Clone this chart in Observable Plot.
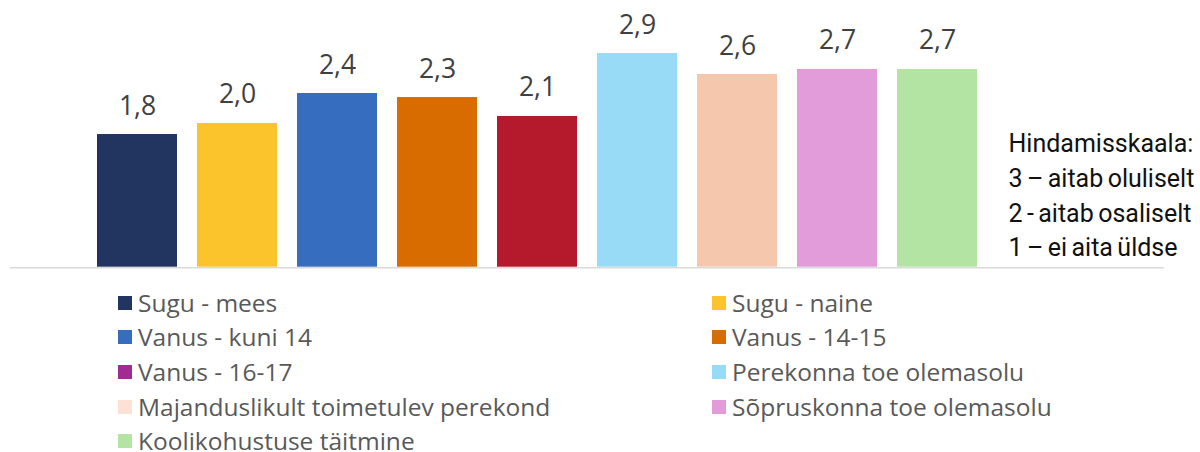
<!DOCTYPE html>
<html>
<head>
<meta charset="utf-8">
<script src="https://cdn.jsdelivr.net/npm/d3@7"></script>
<script src="https://cdn.jsdelivr.net/npm/@observablehq/plot@0.6"></script>
<style>
  html, body { margin: 0; padding: 0; background: #fff; }
  #chart { width: 1200px; }
  #legend {
    display: grid;
    grid-template-columns: 594px auto;
    padding-left: 118px;
    font-family: "Open Sans", sans-serif;
    font-size: 24.5px;
    color: #595959;
  }
  .item { display: flex; align-items: center; height: 34.6px; white-space: nowrap; }
  .item span.lbl { display: block; line-height: 0.9; }
  .sw { width: 14px; height: 14px; margin-right: 6px; flex: none; }
</style>
</head>
<body>
<div id="chart"></div>
<div id="legend"></div>
<script>
const categories = [
  "Sugu - mees",
  "Sugu - naine",
  "Vanus - kuni 14",
  "Vanus - 14-15",
  "Vanus - 16-17",
  "Perekonna toe olemasolu",
  "Majanduslikult toimetulev perekond",
  "Sõpruskonna toe olemasolu",
  "Koolikohustuse täitmine"
];
const values = [1.815, 1.966, 2.376, 2.321, 2.062, 2.923, 2.636, 2.705, 2.705];
const barColors = ["#213560", "#FBC32C", "#366DBF", "#D86C00", "#B4192C", "#98DBF6", "#F5C8AE", "#E39CDA", "#B4E4A3"];
const legendColors = ["#213560", "#FBC32C", "#366DBF", "#D86C00", "#A02B93", "#98DBF6", "#FCE1D4", "#E39CDA", "#B4E4A3"];
const annotationLines = [
  "Hindamisskaala:",
  "3 – aitab oluliselt",
  "2 - aitab osaliselt",
  "1 – ei aita üldse"
];

const fmt = v => d3.format(".1f")(v).replace(".", ",");
const data = categories.map((c, i) => ({cat: c, value: values[i]}));

const chart = Plot.plot({
  width: 1200,
  height: 285.5,
  marginLeft: 10,
  marginRight: 36,
  marginTop: 0,
  marginBottom: 0,
  style: {fontFamily: "'Open Sans', sans-serif", background: "#fff"},
  x: {domain: categories, range: [86, 988.25], paddingInner: 0.2, paddingOuter: 0.1, axis: null},
  y: {domain: [0, 3.5], range: [266.7, 10.85], axis: null},
  color: {domain: categories, range: barColors},
  marks: [
    Plot.ruleY([0], {stroke: "#d9d9d9", strokeWidth: 1.6, dy: 0.6}),
    Plot.barY(data, {x: "cat", y: "value", fill: "cat"}),
    Plot.text(data, {
      x: "cat", y: "value", text: d => fmt(d.value),
      lineAnchor: "bottom", dy: -20, fontSize: 26.5, fill: "#404040"
    }),
    Plot.text([annotationLines.join("\n")], {
      text: d => d, frameAnchor: "top-left", textAnchor: "start", lineAnchor: "top",
      dx: 998, dy: 127, fontSize: 25, lineHeight: 1.39,
      fontFamily: "Roboto, sans-serif", fill: "#111111"
    })
  ]
});
chart.querySelectorAll("text").forEach(t => {
  if (t.textContent.startsWith("Hindamis")) t.setAttribute("style", "word-spacing:-1.8px");
});
document.getElementById("chart").appendChild(chart);

const legend = document.getElementById("legend");
categories.forEach((c, i) => {
  const item = document.createElement("div");
  item.className = "item";
  const sw = document.createElement("span");
  sw.className = "sw";
  sw.style.background = legendColors[i];
  const label = document.createElement("span");
  label.className = "lbl";
  label.textContent = c;
  item.appendChild(sw);
  item.appendChild(label);
  legend.appendChild(item);
});
</script>
</body>
</html>
